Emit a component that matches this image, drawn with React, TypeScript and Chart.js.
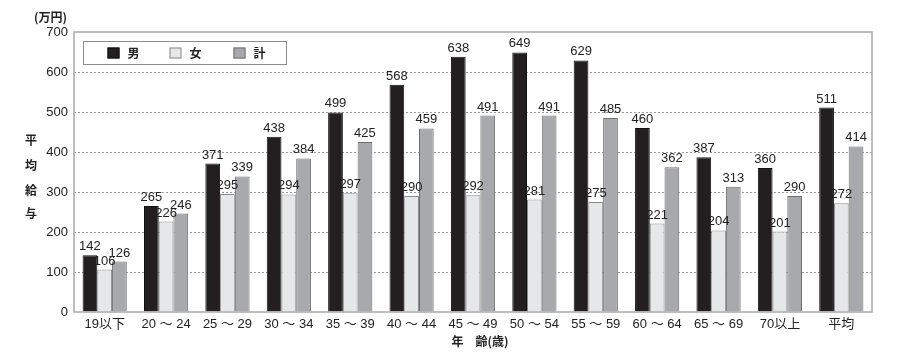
import React, { useEffect, useRef } from "react";
import { Chart, registerables } from "chart.js";

Chart.register(...registerables);

const categories = ["19以下", "20 ～ 24", "25 ～ 29", "30 ～ 34", "35 ～ 39", "40 ～ 44", "45 ～ 49", "50 ～ 54", "55 ～ 59", "60 ～ 64", "65 ～ 69", "70以上", "平均"];
const men = [142, 265, 371, 438, 499, 568, 638, 649, 629, 460, 387, 360, 511];
const women = [106, 226, 295, 294, 297, 290, 292, 281, 275, 221, 204, 201, 272];
const total = [126, 246, 339, 384, 425, 459, 491, 491, 485, 362, 313, 290, 414];
const seriesNames = ["男", "女", "計"];
const yUnit = "(万円)";
const yTitleChars = ["平", "均", "給", "与"];
const xTitle = "年　齢(歳)";

const FONT = '"Liberation Sans", Arial, "Noto Sans CJK JP", sans-serif';
const CJK = '"Noto Sans CJK JP", sans-serif';
const TEXT = "#222";

const fills = ["#231f20", "#e6e7e8", "#a7a9ac"];
const borders = ["#111111", "#8a8a8a", "#6d6e70"];

const decorPlugin = {
  id: "decor",
  afterDatasetsDraw(chart: any) {
    const ctx = chart.ctx;
    ctx.save();
    ctx.font = `13px ${FONT}`;
    ctx.fillStyle = TEXT;
    ctx.textAlign = "center";
    ctx.textBaseline = "bottom";
    chart.data.datasets.forEach((ds: any, i: number) => {
      const meta = chart.getDatasetMeta(i);
      meta.data.forEach((el: any, j: number) => {
        ctx.fillText(String(ds.data[j]), el.x, el.y - 2);
      });
    });
    ctx.restore();
  },
  afterDraw(chart: any) {
    const ctx = chart.ctx;
    const a = chart.chartArea;
    ctx.save();
    // plot border
    ctx.strokeStyle = "#a8a8a8";
    ctx.lineWidth = 1.5;
    ctx.strokeRect(a.left, a.top, a.right - a.left, a.bottom - a.top);

    // legend
    const lx = a.left + 9.5, ly = a.top + 9.5, lw = 203, lh = 23;
    ctx.fillStyle = "#fff";
    ctx.fillRect(lx, ly, lw, lh);
    ctx.strokeStyle = "#8c8c8c";
    ctx.lineWidth = 1;
    ctx.strokeRect(lx, ly, lw, lh);
    const offs = [24, 86, 150];
    ctx.font = `bold 12px ${CJK}`;
    ctx.textAlign = "left";
    ctx.textBaseline = "middle";
    seriesNames.forEach((name, i) => {
      const sx = lx + offs[i];
      ctx.fillStyle = fills[i];
      ctx.fillRect(sx, ly + 6, 12, 11);
      ctx.strokeStyle = borders[i];
      ctx.strokeRect(sx + 0.5, ly + 6.5, 11, 10);
      ctx.fillStyle = TEXT;
      ctx.fillText(name, sx + 20, ly + lh / 2 + 0.5);
    });

    // y unit
    ctx.font = `bold 12px ${CJK}`;
    ctx.textAlign = "right";
    ctx.fillStyle = TEXT;
    ctx.fillText(yUnit, 67, 17);

    // vertical y title
    ctx.textAlign = "center";
    const ys = [140, 165, 190, 213];
    yTitleChars.forEach((c, i) => ctx.fillText(c, 31, ys[i]));

    // x title
    ctx.fillText(xTitle, (a.left + a.right) / 2 + 7, 341);
    ctx.restore();
  },
};

export default function App() {
  const ref = useRef<HTMLCanvasElement>(null);
  useEffect(() => {
    document.body.style.margin = "0";
    const makeDs = (label: string, data: number[], i: number) => ({
      label,
      data,
      backgroundColor: fills[i],
      borderColor: borders[i],
      borderWidth: 1,
      categoryPercentage: 0.72,
      barPercentage: 1.0,
    });
    const chart = new Chart(ref.current!, {
      type: "bar",
      data: {
        labels: categories,
        datasets: [
          makeDs(seriesNames[0], men, 0),
          makeDs(seriesNames[1], women, 1),
          makeDs(seriesNames[2], total, 2),
        ],
      },
      options: {
        responsive: false,
        animation: false,
        devicePixelRatio: 1,
        layout: { padding: { left: 0, top: 32, right: 28, bottom: 0 } },
        plugins: { legend: { display: false }, tooltip: { enabled: false } },
        scales: {
          x: {
            grid: { display: false, drawTicks: false },
            border: { display: false },
            ticks: { color: TEXT, font: { size: 13, family: FONT }, padding: 5, maxRotation: 0, autoSkip: false },
            afterFit: (s: any) => { s.height = 46; },
          },
          y: {
            min: 0,
            max: 700,
            ticks: { stepSize: 100, color: TEXT, font: { size: 13, family: FONT }, padding: 6 },
            grid: {
              drawTicks: false,
              color: (c: any) => (c.tick && (c.tick.value === 0 || c.tick.value === 700) ? "rgba(0,0,0,0)" : "#9a9a9a"),
              lineWidth: 1,
            },
            border: { display: false, dash: [2, 2] },
            afterFit: (s: any) => { s.width = 74; },
          },
        },
      },
      plugins: [decorPlugin],
    });
    return () => chart.destroy();
  }, []);
  return <canvas ref={ref} width={900} height={358} style={{ display: "block" }} />;
}
